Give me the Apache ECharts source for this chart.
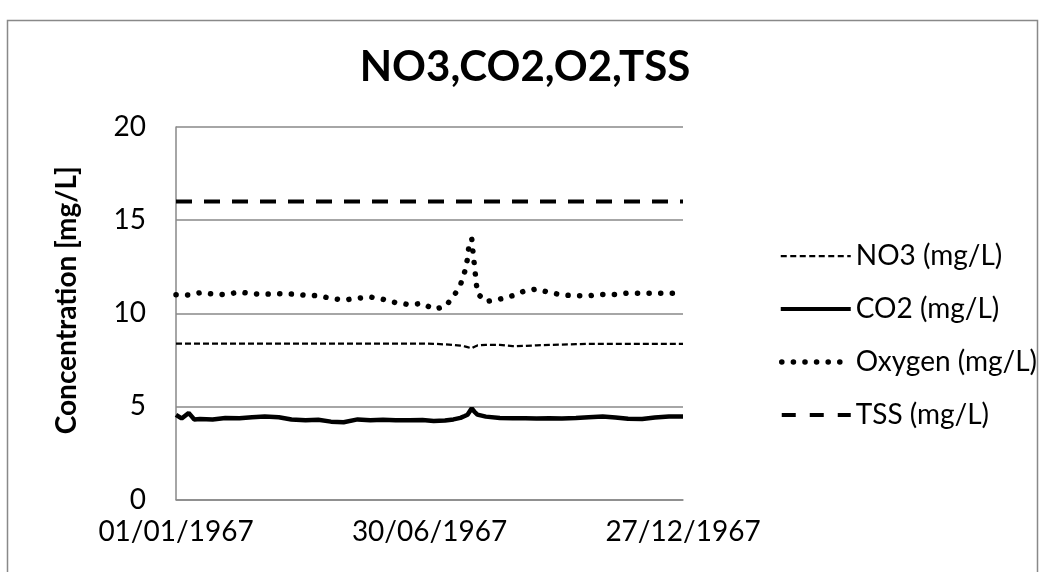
<!DOCTYPE html>
<html>
<head>
<meta charset="utf-8">
<script src="https://cdn.jsdelivr.net/npm/echarts@6/dist/echarts.min.js"></script>
<style>
  html, body { margin: 0; padding: 0; background: #fff; }
  #chart { width: 1056px; height: 572px; }
</style>
</head>
<body>
<div id="chart"></div>
<script>
// Days since 01/01/1967
const days = [0,4,9,13,17,26,35,45,54,63,73,82,92,101,110,119,129,138,147,156,166,175,183,191,197,202,205,207,208,210,211,212,213,214,220,230,239,248,256,265,274,284,293,303,312,321,331,340,350,360];

const no3 = [8.37,8.37,8.37,8.37,8.37,8.37,8.37,8.37,8.37,8.37,8.37,8.37,8.37,8.37,8.37,8.37,8.37,8.37,8.37,8.37,8.37,8.37,8.36,8.33,8.30,8.26,8.22,8.18,8.15,8.12,8.16,8.20,8.25,8.27,8.30,8.30,8.23,8.25,8.28,8.30,8.32,8.34,8.36,8.36,8.36,8.36,8.36,8.36,8.36,8.36];

const co2 = [4.55,4.35,4.65,4.30,4.32,4.30,4.38,4.36,4.42,4.45,4.42,4.30,4.25,4.28,4.18,4.15,4.30,4.25,4.28,4.26,4.25,4.27,4.22,4.24,4.30,4.38,4.48,4.55,4.65,4.90,4.80,4.70,4.62,4.56,4.45,4.38,4.36,4.36,4.35,4.36,4.35,4.38,4.42,4.45,4.40,4.33,4.32,4.40,4.45,4.45];

const oxygen = [11.00,11.00,10.98,11.05,11.10,11.03,11.00,11.14,11.05,11.02,11.05,11.03,10.97,10.94,10.80,10.71,10.80,10.87,10.75,10.57,10.46,10.53,10.22,10.35,10.89,11.53,12.23,12.93,13.64,14.00,13.20,12.50,11.78,11.07,10.62,10.76,10.94,11.21,11.30,11.12,10.98,10.94,10.94,11.01,11.01,11.08,11.07,11.08,11.07,11.08];

const tss = days.map(() => 16.0);

const seriesNames = ['NO3 (mg/L)', 'CO2 (mg/L)', 'Oxygen (mg/L)', 'TSS (mg/L)'];
const titleText = 'NO3,CO2,O2,TSS';
const yAxisName = 'Concentration [mg/L]';
const startDate = Date.UTC(1967, 0, 1);

function pad(n) { return (n < 10 ? '0' : '') + n; }
function fmtDay(d) {
  const dt = new Date(startDate + d * 86400000);
  return pad(dt.getUTCDate()) + '/' + pad(dt.getUTCMonth() + 1) + '/' + dt.getUTCFullYear();
}
function pairs(vals) { return days.map((d, i) => [d, vals[i]]); }

const FONT = 'Lato';
const GRAY = '#898989';

const styles = [
  { color: '#000', width: 2.25, type: [6, 3] },
  { color: '#000', width: 4.5, type: 'solid' },
  { color: '#000', width: 5.5, type: [0.1, 11.5], cap: 'round' },
  { color: '#000', width: 4, type: [16, 12] }
];
const legendStyles = [
  { color: '#000', width: 2.25, type: [6, 3.5] },
  { color: '#000', width: 4, type: 'solid' },
  { color: '#000', width: 5.5, type: [0.1, 11.5], cap: 'round', dashOffset: -1 },
  { color: '#000', width: 4, type: [14, 14] }
];

const chart = echarts.init(document.getElementById('chart'), null, { renderer: 'canvas' });
chart.setOption({
  backgroundColor: '#fff',
  animation: false,
  graphic: [{
    type: 'rect',
    shape: { x: 7.5, y: 20.5, width: 1030, height: 700 },
    style: { fill: 'none', stroke: GRAY, lineWidth: 1.5 },
    silent: true, z: -10
  }],
  title: {
    text: titleText,
    left: 520,
    textAlign: 'center',
    top: 41,
    textStyle: { fontFamily: FONT, fontWeight: 'bold', fontSize: 42, color: '#000' }
  },
  legend: {
    orient: 'vertical',
    left: 773,
    top: 236,
    itemWidth: 70,
    itemHeight: 14,
    itemGap: 23,
    itemStyle: { color: 'rgba(0,0,0,0)', borderWidth: 0, opacity: 0 },
    textStyle: { fontFamily: FONT, fontSize: 28, color: '#000', lineHeight: 30 },
    data: seriesNames.map((n, i) => ({ name: n, lineStyle: legendStyles[i] }))
  },
  grid: { left: 176, right: 373, top: 127, bottom: 72.5, containLabel: false },
  xAxis: {
    type: 'value',
    min: 0, max: 360, interval: 180,
    axisLine: { show: true, lineStyle: { color: GRAY, width: 1.5 } },
    axisTick: { show: false },
    splitLine: { show: false },
    axisLabel: { formatter: fmtDay, fontFamily: FONT, fontSize: 28, color: '#000', margin: 18 }
  },
  yAxis: {
    type: 'value',
    min: 0, max: 20, interval: 5,
    name: yAxisName,
    nameLocation: 'middle',
    nameGap: 95,
    nameTextStyle: { fontFamily: FONT, fontWeight: 'bold', fontSize: 28, color: '#000', padding: [0, 0, 0, 26] },
    axisLine: { show: true, lineStyle: { color: GRAY, width: 1.5 } },
    axisTick: { show: false },
    splitLine: { show: true, lineStyle: { color: GRAY, width: 1.5 } },
    axisLabel: { fontFamily: FONT, fontSize: 28, color: '#000', margin: 30 }
  },
  series: seriesNames.map((n, i) => ({
    name: n, type: 'line',
    data: pairs([no3, co2, oxygen, tss][i]),
    symbol: 'circle', showSymbol: false,
    lineStyle: styles[i], itemStyle: { color: '#000' }
  }))
});
</script>
</body>
</html>
